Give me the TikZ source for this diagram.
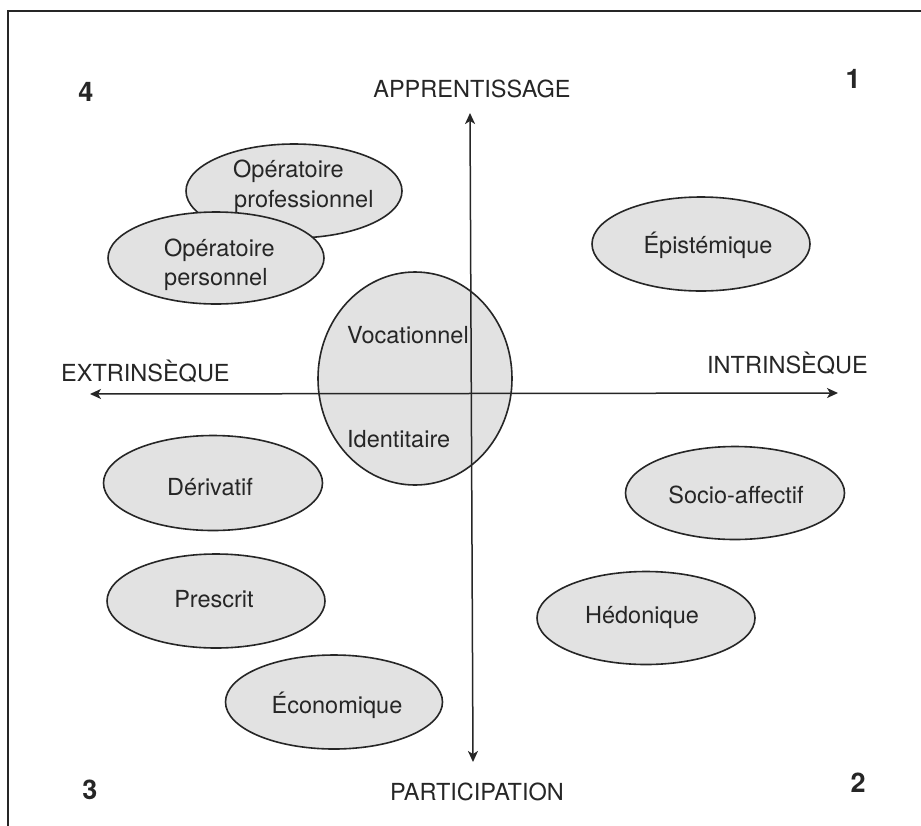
\documentclass[tikz,border=0pt]{standalone}
\usepackage{fontspec}
\setmainfont{TeX Gyre Heros}
\usetikzlibrary{shapes.geometric,arrows.meta}
\definecolor{ink}{HTML}{262626}
\definecolor{ovalfill}{HTML}{E2E2E2}
\tikzset{
  oval/.style={shape=ellipse, draw=ink, line width=1.6pt, fill=ovalfill, inner sep=0pt},
  lbl/.style={inner sep=0pt, text=ink, font=\fontsize{23.5}{28}\selectfont},
  num/.style={inner sep=0pt, text=ink, font=\fontsize{27}{32}\selectfont\bfseries, anchor=base},
  axis/.style={draw=ink, line width=1.5pt, {Stealth[length=11pt,width=10pt,inset=3pt]}-{Stealth[length=11pt,width=10pt,inset=3pt]}},
  frameline/.style={draw=black!85, line width=2pt}
}
\begin{document}
\begin{tikzpicture}[x=1pt,y=-1pt]
\useasboundingbox (0,0) rectangle (921,825);
\fill[white] (0,0) rectangle (921,825);
% frame (left and top edges)
\coordinate (fbl) at (8,826);
\coordinate (ftl) at (8,11);
\coordinate (ftr) at (922,11);
\draw[frameline] (fbl) -- (ftl) -- (ftr);

% ovals
\node[oval, minimum width=216pt, minimum height=94pt] (oprof) at (294,191) {};
\node[oval, minimum width=216pt, minimum height=92pt] (opers) at (216,258) {};
\node[oval, minimum width=218pt, minimum height=94pt] (epist) at (701,244) {};
\node[oval, minimum width=194pt, minimum height=213pt] (voc) at (415,378.5) {};
\node[oval, minimum width=219pt, minimum height=95pt] (deriv) at (213,483) {};
\node[oval, minimum width=218pt, minimum height=94pt] (presc) at (216,601) {};
\node[oval, minimum width=217pt, minimum height=94pt] (econ) at (334,702) {};
\node[oval, minimum width=219pt, minimum height=93pt] (socio) at (735,493) {};
\node[oval, minimum width=218pt, minimum height=93pt] (hedo) at (646,618) {};

% axes
\coordinate (vtop) at (470,113);
\coordinate (vbot) at (473,762);
\coordinate (hleft) at (90,394);
\coordinate (hright) at (838,393);
\draw[axis] (vtop) -- (vbot);
\draw[axis] (hleft) -- (hright);

% oval labels
\node[lbl, anchor=base west] (tOp1) at (233,177) {Opératoire};
\node[lbl, anchor=base west] (tProf) at (234,207) {professionnel};
\node[lbl, anchor=base west] (tOp2) at (164,256) {Opératoire};
\node[lbl, anchor=base west] (tPers) at (164,285) {personnel};
\node[lbl, anchor=base] (tEpi) at (708,253) {Épistémique};
\node[lbl, anchor=base west] (tVoc) at (347,343) {Vocationnel};
\node[lbl, anchor=base west] (tIde) at (347,447) {Identitaire};
\node[lbl, anchor=base] (tDer) at (210,495) {Dérivatif};
\node[lbl, anchor=base] (tPre) at (214,607) {Prescrit};
\node[lbl, anchor=base] (tEco) at (337,713) {Économique};
\node[lbl, anchor=base] (tSoc) at (736,503) {Socio-affectif};
\node[lbl, anchor=base] (tHed) at (642,623) {Hédonique};

% axis labels
\node[lbl, anchor=base] (lApp) at (472,97) {APPRENTISSAGE};
\node[lbl, anchor=base] (lPar) at (477,800) {PARTICIPATION};
\node[lbl, anchor=base west] (lExt) at (61,381) {EXTRINSÈQUE};
\node[lbl, anchor=base west] (lInt) at (707,373) {INTRINSÈQUE};

% quadrant numbers
\node[num] (n4) at (86,101) {4};
\node[num] (n1) at (853,88) {1};
\node[num] (n3) at (90,799) {3};
\node[num] (n2) at (858,792) {2};
\end{tikzpicture}
\end{document}
